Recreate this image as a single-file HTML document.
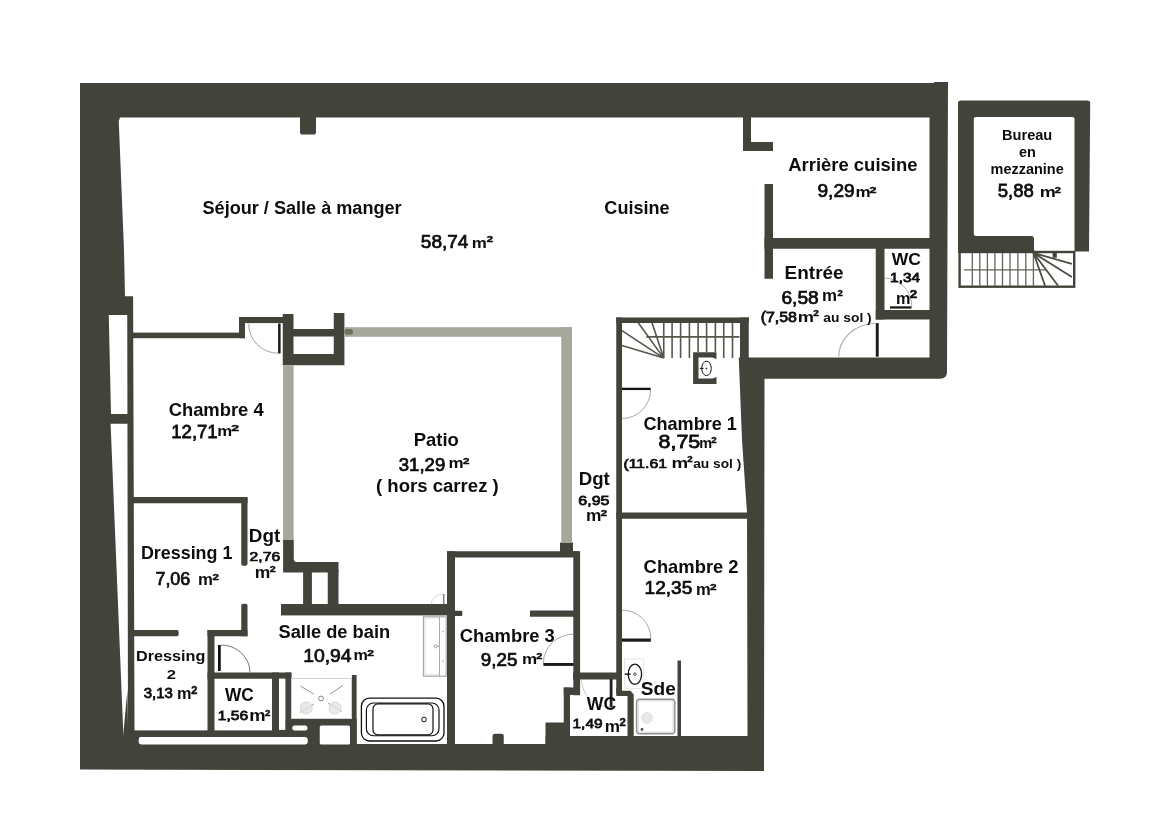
<!DOCTYPE html>
<html><head><meta charset="utf-8"><title>Plan</title>
<style>
html,body{margin:0;padding:0;background:#fff;}
svg{display:block}
text{font-family:"Liberation Sans",sans-serif;font-weight:bold;fill:#0d0d0d;}
.w{fill:#42433a}
.g{fill:#a6a89c}
.st{stroke:#55574c;stroke-width:1.6;fill:none}
.lg{stroke:#b9b9b9;stroke-width:1;fill:none}
.bk{stroke:#111;fill:none}
.B{font-weight:bold}
.M{font-weight:normal;stroke:#0d0d0d;stroke-width:0.75px}
.S2{font-weight:bold;stroke:#0d0d0d;stroke-width:0.45px}
</style></head><body>
<svg width="1165" height="837" viewBox="0 0 1165 837">
<rect width="1165" height="837" fill="#fff"/>

<!-- ===== OUTER SHELL ===== -->
<path class="w" d="M80,83 L934,83 L934,82 L948,82 L947.5,230 L947,372 Q947,378.75 940,378.75 L764.5,378.75 L764,771 L80,769.5 Z"/>
<!-- interior white -->
<path fill="#fff" d="M120,117.5 L929.5,117.5 L929.5,357.5 L738.75,357.5 L742,440 L747,512.5 L747.5,736 L545.5,736 L545.5,744 L123.75,744 L110.6,424 L111,414 L108.75,315 L125.5,315 L125,296.3 L124,250 L118.75,121 Z"/>

<!-- ===== WALLS ===== -->
<g class="w">
<!-- left wall step + thin wall + window bar -->
<path d="M108,296.3 L133.1,296.3 L134.5,731 L128,731 L127.25,315 L108,315 Z"/>
<rect x="108" y="414" width="21" height="9.75"/>
<!-- top notch -->
<path d="M300,117 L316,117 L316,132.5 Q316,134.5 314,134.5 L302,134.5 Q300,134.5 300,132.5 Z"/>
<!-- arriere cuisine L -->
<rect x="743" y="117" width="8" height="34"/>
<rect x="743" y="142" width="30" height="9"/>
<rect x="764.5" y="184" width="8.5" height="94.75"/>
<rect x="764.5" y="238" width="166" height="10.75"/>
<rect x="875.75" y="248" width="8.75" height="71.5"/>
<rect x="875.75" y="310" width="55" height="9.5"/>
<!-- stair / chambre 1 box -->
<rect x="616.25" y="317.5" width="132.5" height="5.5"/>
<rect x="740" y="317.5" width="8.75" height="41"/>
<rect x="616.25" y="317.5" width="5.75" height="376"/>
<rect x="616.25" y="512.5" width="132" height="6.25"/>
<!-- sink niche -->
<path d="M693.1,352.25 L716.5,352.25 L716.5,359 L712.5,357.5 L698.5,357.5 L698.5,378.5 L712.5,378.5 L716.5,377 L716.5,384 L693.1,384 Z"/>
<!-- chambre 4 top wall + step -->
<rect x="133" y="332.6" width="112" height="5.6"/>
<rect x="239" y="317" width="6" height="21.2"/>
<rect x="239" y="317" width="45" height="6.1"/>
<!-- block at patio top-left -->
<path d="M282.75,314 L293.5,314 L293.5,329 L333.75,329 L333.75,312.9 L344.4,312.9 L344.4,365.25 L282.75,365.25 Z M293.5,336.5 L333.75,336.5 L333.75,354 L293.5,354 Z" fill-rule="evenodd"/>
<!-- dressing 1 -->
<rect x="133" y="497" width="114.5" height="6.25"/>
<path d="M241.25,497 L247.5,497 L247.5,564 Q247.5,565.75 245.5,565.75 L243.25,565.75 Q241.25,565.75 241.25,564 Z"/>
<path d="M241.25,605.5 Q241.25,603.75 243.25,603.75 L245.5,603.75 Q247.5,603.75 247.5,605.5 L247.5,636.25 L241.25,636.25 Z"/>
<path d="M133,630 L177,630 Q178.75,630 178.75,633 Q178.75,636.25 177,636.25 L133,636.25 Z"/>
<rect x="207.5" y="630" width="40" height="6.25"/>
<rect x="207.5" y="630" width="7" height="102"/>
<!-- WC 1,56 -->
<rect x="207.5" y="672.5" width="84" height="6.25"/>
<rect x="272" y="672.5" width="7" height="60"/>
<rect x="285.25" y="672.5" width="6" height="60"/>
<rect x="272" y="729.75" width="20" height="8"/>
<!-- bottom thin wall -->
<rect x="128" y="730.4" width="180" height="6.6"/>
<path d="M127.4,690 L128.2,737 L123,737 L123.4,733 Z"/>
<path d="M123,736 L140,736 L138.75,741 L140,745 L123,745 Z"/>
<rect x="285.25" y="718.75" width="71.5" height="26"/>
<rect x="351.9" y="675" width="4.7" height="70"/>
<!-- patio lower-left -->
<path d="M283.1,540 L293.75,540 L293.75,559 Q293.75,562 297,562 L338.5,562 L338.5,572.5 L283.1,572.5 Z"/>

<rect x="303.1" y="570" width="8.8" height="36"/>
<rect x="327.75" y="570" width="10.75" height="36"/>
<rect x="281" y="604" width="174" height="11.4"/>
<!-- chambre 3 -->
<rect x="447" y="551.25" width="8" height="193"/>
<rect x="447" y="551.25" width="132.5" height="6.25"/>
<rect x="560" y="542.5" width="13" height="10"/>
<rect x="573.3" y="551.25" width="6.8" height="144"/>
<rect x="530" y="610.5" width="44" height="6.25"/>
<rect x="454" y="610.7" width="8.3" height="5.3" rx="1"/>
<path d="M492.5,744 L492.5,736 Q492.5,733.75 495,733.75 L501,733.75 Q503.75,733.75 503.75,736 L503.75,744 Z"/>
<!-- WC 1,49 -->
<rect x="573" y="672.5" width="49" height="7"/>
<rect x="563.75" y="687.5" width="16" height="7.5"/>
<rect x="563.75" y="687.5" width="6.25" height="50"/>
<rect x="545.5" y="722.5" width="19" height="23"/>
<path d="M616.25,688 L621.9,688 L621.9,690.7 L630.5,690.7 L633.7,694.5 L633.7,737 L627.5,737 L627.5,695.9 L616.25,695.9 Z"/>
<!-- sde right wall -->
<rect x="677.5" y="660.5" width="3.5" height="76"/>
</g>

<!-- white cut-outs in dark areas -->
<g fill="#fff">
<rect x="279" y="678.75" width="6.25" height="51"/>
<rect x="291.25" y="678.75" width="60.65" height="40"/>
<rect x="292.25" y="725.6" width="15.25" height="5" rx="2.5"/>
<rect x="319.75" y="725.6" width="30.25" height="18.8" rx="1.5"/>
<rect x="138.75" y="737" width="169" height="7.5" rx="3"/>
</g>

<!-- patio gray walls -->
<g class="g">
<rect x="344.4" y="327.2" width="227.6" height="9.6"/>
<rect x="344.4" y="329" width="8.5" height="5.4" rx="2" fill="#6f7163"/>
<rect x="561.25" y="327.2" width="10.75" height="215.3"/>
<rect x="283.1" y="365.2" width="10.5" height="174.8"/>
</g>

<!-- ===== MEZZANINE ===== -->
<path class="w" d="M958,103 Q958,100.5 961,100.5 L1087,100.5 Q1090.2,100.5 1090.2,103 L1089,251.5 L1074.5,251.5 L1074.5,119 Q1074.5,117 1072.5,117 L976,117 Q973.8,117 973.8,119 L973.8,234 Q973.8,236 976,236 L1031,236 Q1034,236 1034,239 L1034,250 L1036,252.9 L958,252.9 Z"/>
<rect x="959.6" y="252" width="114.6" height="34.7" fill="#fff" stroke="#42433a" stroke-width="2.4"/>
<g class="st" style="stroke:#63655a;stroke-width:1.3">
<path d="M972.3,253V286 M979.8,253V286 M987.4,253V286 M994.9,253V286 M1002.5,253V286 M1010,253V286 M1017.9,253V286 M1025.8,253V286 M1033.4,253V286"/>
<path d="M964,269.8H1045.8"/>
<path style="stroke:#4b4c42;stroke-width:1.8" d="M1033.4,252.9L1045.1,285.8 M1033.4,252.9L1058.1,285.8 M1033.4,252.9L1071.9,276.9 M1033.4,252.9L1071.9,263.9"/>
</g>
<rect class="w" x="1052.6" y="253" width="4.2" height="4.7"/>

<!-- ===== STAIRS chambre 1 ===== -->
<g class="st">
<path d="M663.75,322.5V358 M672.1,322.5V358 M680.6,322.5V358 M689.4,322.5V358 M698.1,322.5V352 M706.6,322.5V352 M715.4,322.5V352 M723.75,322.5V358 M732.5,322.5V358"/>
<path d="M646.25,336.9H739.4"/>
<path d="M621.9,330.6L663.75,358.1 M621.9,345.4L663.75,358.1 M638.1,322.5L663.75,358.1 M651.9,322.5L663.75,358.1"/>
</g>

<!-- ===== FIXTURES ===== -->
<!-- sink chambre 1 -->
<ellipse cx="706.5" cy="368.4" rx="4.75" ry="7.25" class="bk" stroke-width="1"/>
<circle cx="706.5" cy="368.4" r="0.9" fill="#333"/>
<path d="M699.75,368.4H703.5" class="bk" stroke-width="1"/>
<!-- sink sde -->
<rect x="624.4" y="659" width="19.3" height="29.5" fill="none" stroke="#e4e4e4" stroke-width="0.9"/>
<ellipse cx="634.9" cy="674.2" rx="6.7" ry="10.1" class="bk" stroke-width="1.3"/>
<circle cx="634.9" cy="674.2" r="1.3" fill="#fff" stroke="#222" stroke-width="0.8"/>
<path d="M624.8,674.2H630.6" class="bk" stroke-width="1.4"/>
<!-- shower tray sde -->
<rect x="636.6" y="699.2" width="38.2" height="34.6" rx="3.2" fill="#fff" stroke="#8f8f8f" stroke-width="1.4"/>
<rect x="638.2" y="700.8" width="35" height="31.4" rx="2.3" fill="none" stroke="#cfcfcf" stroke-width="0.9"/>
<circle cx="647" cy="718" r="5.3" fill="#ececec" stroke="#d2d2d2" stroke-width="0.8"/>
<circle cx="647" cy="718" r="3" fill="none" stroke="#d8d8d8" stroke-width="0.6"/>
<circle cx="642" cy="729.5" r="1.4" fill="#555"/>
<!-- shower sdb -->
<rect x="291.5" y="678.5" width="60" height="40" fill="none" stroke="#c8c8c8" stroke-width="0.8"/>
<circle cx="321" cy="698.5" r="2.4" fill="#fff" stroke="#666" stroke-width="0.8"/>
<g stroke="#777" stroke-width="0.8" fill="none">
<path d="M300.4,686L313.75,694 M330,694L343.1,685.4 M300,712.5L313.75,704 M328.1,703.1L341.9,711.5"/>
</g>
<g fill="#e4e4e4" stroke="#cfcfcf" stroke-width="0.7" fill-opacity="0.8">
<path d="M303.5,702.2h5.5l3,3v5.5l-3,3h-5.5l-3,-3v-5.5z"/>
<path d="M332.2,702.2h5.5l3,3v5.5l-3,3h-5.5l-3,-3v-5.5z"/>
</g>
<!-- vanity -->
<rect x="423.4" y="616.8" width="22.8" height="59.4" fill="#fff" stroke="#9c9c9c" stroke-width="1"/>
<path d="M425,618H439.5 M425,674.8H439.5 M425,618V674.8" stroke="#cfcfcf" stroke-width="0.8" fill="none"/><path d="M439.5,617V676" stroke="#a2a2a2" stroke-width="0.9" fill="none"/><path d="M437.2,646.4H439.5" stroke="#888" stroke-width="0.8"/>
<circle cx="435.5" cy="646.4" r="1.5" fill="none" stroke="#8c8c8c" stroke-width="0.8"/>
<circle cx="442.9" cy="631.5" r="1" fill="#c4c4c4"/><circle cx="442.9" cy="661.3" r="1" fill="#c4c4c4"/>
<!-- bathtub -->
<rect x="361.4" y="698.2" width="82.6" height="42.8" rx="8" fill="#fff" stroke="#111" stroke-width="1.3"/>
<rect x="366.4" y="703" width="72.6" height="32.75" rx="7" fill="none" stroke="#111" stroke-width="1.2"/>
<rect x="373" y="703.9" width="60" height="31" rx="5" fill="none" stroke="#111" stroke-width="1.2"/>
<circle cx="424" cy="719.5" r="2.3" fill="none" stroke="#111" stroke-width="1"/>

<!-- ===== DOORS ===== -->
<g fill="none">
<!-- chambre 4 -->
<path d="M248.7,323.75A29.4,29.4 0 0 0 278.1,353.2" stroke="#9a9a9a" stroke-width="0.9"/>
<rect x="278.1" y="323.5" width="2.5" height="30" fill="#1a1a1a"/>
<!-- chambre 1 -->
<path d="M650.5,390A28.5,28.5 0 0 1 622,418.5" stroke="#a2a2a2" stroke-width="0.95"/>
<rect x="622" y="387.75" width="28.6" height="2.3" fill="#111"/>
<!-- entree -->
<path d="M838.7,356.8A36.9,33.3 0 0 1 875.6,323.5" stroke="#b0b0b0" stroke-width="1.1"/>
<rect x="875.8" y="323.1" width="2.9" height="33.6" fill="#1a1a1a"/>
<!-- WC 1,34 -->
<path d="M884.5,278A27.5,28.5 0 0 1 911.8,306.5" stroke="#b0b0b0" stroke-width="1"/>
<rect x="890" y="306.3" width="21.5" height="2.3" fill="#1a1a1a"/>
<!-- WC 1,56 / dressing door -->
<path d="M220.75,645A29,27.5 0 0 1 250,672.5" stroke="#555" stroke-width="0.8"/>
<rect x="218" y="645" width="2.75" height="26" fill="#111"/>
<!-- chambre 3 -->
<path d="M543.4,663.2A30.1,29 0 0 1 573.5,634.2" stroke="#a2a2a2" stroke-width="0.95"/>
<rect x="543.4" y="663" width="30.2" height="2.9" fill="#1a1a1a"/>
<!-- chambre 2 -->
<path d="M622,610A28.8,28.5 0 0 1 650.8,638.5" stroke="#a2a2a2" stroke-width="0.95"/>
<rect x="622" y="638.5" width="28.9" height="3.2" fill="#1a1a1a"/>
<!-- WC 1,49 -->
<path d="M581.5,679.5A28.2,27.5 0 0 0 609.7,707" stroke="#c4c4c4" stroke-width="0.9"/>
<rect x="609.7" y="679" width="2.8" height="28.3" fill="#222"/>
<!-- sdb small door -->
<path d="M431.3,604.1A11.9,10 0 0 1 443.2,594.1" stroke="#d4d4d4" stroke-width="0.9"/>
<path d="M443.8,594V604.5" stroke="#555" stroke-width="1.1"/>
</g>

<!-- ===== TEXT ===== -->
<g style="opacity:0.999">
<text class="B" font-size="18.3" transform="matrix(0.9900 0 0 1 202.50 213.75)">Séjour / Salle à manger</text>
<text class="M" font-size="18.2" transform="matrix(1.0453 0 0 1 420.84 247.6)">58,74</text>
<text class="B" font-size="18.3" transform="matrix(0.9884 0 0 1 604.36 213.6)">Cuisine</text>
<text class="B" font-size="17.8" transform="matrix(1.0381 0 0 1 788.18 171.4)">Arrière cuisine</text>
<text class="M" font-size="18.4" transform="matrix(1.0388 0 0 1 817.48 197.1)">9,29</text>
<text class="B" font-size="18" transform="matrix(1.0544 0 0 1 784.58 278.7)">Entrée</text>
<text class="M" font-size="18.3" transform="matrix(1.0446 0 0 1 781.48 303.7)">6,58</text>
<text class="M" font-size="14" transform="matrix(1.1360 0 0 1 760.63 321.5)">(7,58</text>
<text class="B" font-size="12.5" transform="matrix(1.1082 0 0 1 823.25 321.8)">au sol )</text>
<text class="B" font-size="17.3" transform="matrix(1.0124 0 0 1 891.70 265.1)">WC</text>
<text class="M" font-size="13" transform="matrix(1.1838 0 0 1 890.11 282.1)">1,34</text>
<text class="B" font-size="13.8" transform="matrix(1.0579 0 0 1 1002.04 139.5)">Bureau</text>
<text class="B" font-size="14" transform="matrix(1.0333 0 0 1 1018.98 156.8)">en</text>
<text class="B" font-size="14" transform="matrix(1.0339 0 0 1 990.57 173.5)">mezzanine</text>
<text class="M" font-size="18.7" transform="matrix(0.9930 0 0 1 997.75 196.9)">5,88</text>
<text class="B" font-size="17.9" transform="matrix(1.0278 0 0 1 168.63 415.7)">Chambre 4</text>
<text class="M" font-size="18.2" transform="matrix(1.0182 0 0 1 171.28 437.6)">12,71</text>
<text class="B" font-size="18.2" transform="matrix(1.0141 0 0 1 413.73 445.9)">Patio</text>
<text class="M" font-size="18.3" transform="matrix(1.0156 0 0 1 398.75 470.8)">31,29</text>
<text class="B" font-size="18" transform="matrix(1.0320 0 0 1 375.97 491.6)">( hors carrez )</text>
<text class="B" font-size="18.2" transform="matrix(0.9941 0 0 1 643.45 429.6)">Chambre 1</text>
<text class="M" font-size="17.7" transform="matrix(1.2090 0 0 1 658.60 447.7)">8,75</text>
<text class="M" font-size="13.7" transform="matrix(1.1541 0 0 1 623.42 467.7)">(11.61</text>
<text class="B" font-size="12.7" transform="matrix(1.0844 0 0 1 693.16 467.7)">au sol )</text>
<text class="B" font-size="18.3" transform="matrix(1.0172 0 0 1 578.83 484.7)">Dgt</text>
<text class="M" font-size="13.6" transform="matrix(1.1769 0 0 1 578.31 505.3)">6,95</text>
<text class="B" font-size="18.3" transform="matrix(1.0276 0 0 1 248.82 541.7)">Dgt</text>
<text class="M" font-size="13.3" transform="matrix(1.1804 0 0 1 249.60 560.5)">2,76</text>
<text class="B" font-size="17.7" transform="matrix(1.0107 0 0 1 140.94 559.4)">Dressing 1</text>
<text class="M" font-size="18" transform="matrix(0.9971 0 0 1 155.40 584.6)">7,06</text>
<text class="B" font-size="15.3" transform="matrix(1.0598 0 0 1 136.04 660.8)">Dressing</text>
<text class="B" font-size="12.8" transform="matrix(1.3000 0 0 1 166.65 679.3)">2</text>
<text class="M" font-size="14.4" transform="matrix(1.0400 0 0 1 143.64 697.9)">3,13</text>
<text class="B" font-size="18" transform="matrix(0.9593 0 0 1 225.00 700.5)">WC</text>
<text class="M" font-size="13.4" transform="matrix(1.1680 0 0 1 217.72 719.8)">1,56</text>
<text class="B" font-size="17.9" transform="matrix(1.0209 0 0 1 278.49 637.5)">Salle de bain</text>
<text class="M" font-size="18.4" transform="matrix(1.0533 0 0 1 303.15 661.8)">10,94</text>
<text class="B" font-size="18" transform="matrix(1.0219 0 0 1 459.83 641.5)">Chambre 3</text>
<text class="M" font-size="18.3" transform="matrix(1.0273 0 0 1 480.79 666.4)">9,25</text>
<text class="B" font-size="17.6" transform="matrix(1.0447 0 0 1 643.62 572.6)">Chambre 2</text>
<text class="M" font-size="17.8" transform="matrix(1.0728 0 0 1 644.53 593.5)">12,35</text>
<text class="B" font-size="17.9" transform="matrix(1.0677 0 0 1 640.77 694.6)">Sde</text>
<text class="B" font-size="17.8" transform="matrix(0.9897 0 0 1 586.80 710.2)">WC</text>
<text class="M" font-size="13.3" transform="matrix(1.1600 0 0 1 572.53 728.1)">1,49</text>
<text class="B" font-size="15" transform="matrix(1.1304 0 0 1 471.87 247.6)">m</text>
<text class="S2" font-size="10" transform="matrix(1.1429 0 0 0.9200 486.71 241.87)">2</text>
<text class="B" font-size="15.5" transform="matrix(1.0979 0 0 1 855.40 197.1)">m</text>
<text class="S2" font-size="10" transform="matrix(1.2571 0 0 0.9067 869.59 192.67)">2</text>
<text class="B" font-size="17" transform="matrix(0.9923 0 0 1 822.01 300.9)">m</text>
<text class="S2" font-size="10" transform="matrix(0.9524 0 0 0.9733 837.56 295.56)">2</text>
<text class="B" font-size="15" transform="matrix(1.2174 0 0 1 797.78 321.5)">m</text>
<text class="S2" font-size="10" transform="matrix(1.0095 0 0 0.8267 813.15 315.59)">2</text>
<text class="B" font-size="16.4" transform="matrix(0.9920 0 0 1 896.11 303.7)">m</text>
<text class="S2" font-size="10" transform="matrix(1.3333 0 0 1.0667 909.67 298.03)">2</text>
<text class="B" font-size="15.5" transform="matrix(1.1660 0 0 1 1039.73 196.9)">m</text>
<text class="S2" font-size="10" transform="matrix(1.1238 0 0 0.8533 1054.82 192.69)">2</text>
<text class="B" font-size="15.2" transform="matrix(1.1043 0 0 1 217.30 435.5)">m</text>
<text class="S2" font-size="10" transform="matrix(1.4095 0 0 0.9733 231.25 431.46)">2</text>
<text class="B" font-size="15" transform="matrix(1.1304 0 0 1 448.57 468.1)">m</text>
<text class="S2" font-size="10" transform="matrix(1.1619 0 0 0.9733 463.01 463.56)">2</text>
<text class="B" font-size="15" transform="matrix(0.9652 0 0 1 699.13 447.7)">m</text>
<text class="S2" font-size="10" transform="matrix(0.9714 0 0 0.8933 711.26 442.98)">2</text>
<text class="B" font-size="15.5" transform="matrix(1.2085 0 0 1 671.49 467.7)">m</text>
<text class="S2" font-size="10" transform="matrix(0.9714 0 0 0.8533 687.16 462.29)">2</text>
<text class="B" font-size="15.8" transform="matrix(1.1000 0 0 1 585.90 521.4)">m</text>
<text class="S2" font-size="10" transform="matrix(1.1429 0 0 0.9067 600.71 515.97)">2</text>
<text class="B" font-size="16" transform="matrix(1.0939 0 0 1 254.81 577.7)">m</text>
<text class="S2" font-size="10" transform="matrix(1.0667 0 0 0.8533 269.83 571.79)">2</text>
<text class="B" font-size="15.6" transform="matrix(1.0750 0 0 1 198.12 584.6)">m</text>
<text class="S2" font-size="10" transform="matrix(1.1619 0 0 0.8667 212.41 580.38)">2</text>
<text class="B" font-size="16.5" transform="matrix(0.9882 0 0 1 176.91 699.3)">m</text>
<text class="S2" font-size="10" transform="matrix(1.1048 0 0 1.0000 191.22 693.85)">2</text>
<text class="B" font-size="16" transform="matrix(1.1510 0 0 1 249.25 720.5)">m</text>
<text class="S2" font-size="10" transform="matrix(0.9714 0 0 0.9467 264.96 715.76)">2</text>
<text class="B" font-size="15" transform="matrix(1.0783 0 0 1 353.52 660)">m</text>
<text class="S2" font-size="10" transform="matrix(1.2190 0 0 0.8933 367.20 655.58)">2</text>
<text class="B" font-size="15.3" transform="matrix(1.1149 0 0 1 521.89 664.4)">m</text>
<text class="S2" font-size="10" transform="matrix(1.1048 0 0 0.9467 536.32 658.56)">2</text>
<text class="B" font-size="16.5" transform="matrix(1.0039 0 0 1 696.00 595.4)">m</text>
<text class="S2" font-size="10" transform="matrix(1.1810 0 0 0.9733 709.90 589.76)">2</text>
<text class="B" font-size="17" transform="matrix(1.0077 0 0 1 604.79 732)">m</text>
<text class="S2" font-size="10" transform="matrix(1.1238 0 0 1.0533 619.42 725.64)">2</text>
</g>
</svg>
</body></html>
